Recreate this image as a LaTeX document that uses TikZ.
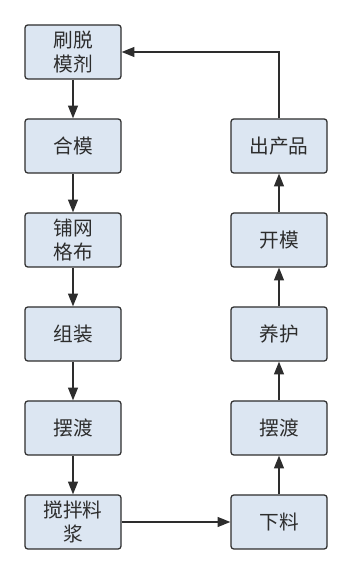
\documentclass[tikz,border=0pt]{standalone}
\usepackage{fontspec}
\newfontfamily\cjk{Noto Sans CJK SC}
\usepackage{tikz}
\usetikzlibrary{positioning, arrows.meta}

\definecolor{boxfill}{RGB}{220,230,242}
\definecolor{boxline}{RGB}{45,45,45}

\begin{document}
\begin{tikzpicture}[
    stepbox/.style={draw=boxline, fill=boxfill, rounded corners=2pt, minimum width=2.4cm,
                    minimum height=1.35cm, line width=0.9pt, align=center,
                    font=\cjk\fontsize{14}{16.5}\selectfont, text=boxline},
    arrow/.style={-{Triangle[length=9pt, width=7pt]}, line width=0.9pt, draw=boxline}
  ]
    \useasboundingbox (0,0) rectangle (8.8,14.35);

    % Left column
    \node[stepbox] (shua)  at (1.825,13.05) {刷脱\\模剂};
    \node[stepbox] (hemo)  at (1.825,10.7)  {合模};
    \node[stepbox] (puwang) at (1.825,8.35) {铺网\\格布};
    \node[stepbox] (zuzhuang) at (1.825,6.0) {组装};
    \node[stepbox] (baidu) at (1.825,3.65)  {摆渡};
    \node[stepbox] (jiaoban) at (1.825,1.3) {搅拌料\\浆};

    % Right column
    \node[stepbox] (xialiao) at (6.975,1.3)  {下料};
    \node[stepbox] (baidur)  at (6.975,3.65) {摆渡};
    \node[stepbox] (yanghu)  at (6.975,6.0)  {养护};
    \node[stepbox] (kaimo)   at (6.975,8.35) {开模};
    \node[stepbox] (chanpin) at (6.975,10.7) {出产品};

    % Arrows
    \draw[arrow] (shua) -- (hemo);
    \draw[arrow] (hemo) -- (puwang);
    \draw[arrow] (puwang) -- (zuzhuang);
    \draw[arrow] (zuzhuang) -- (baidu);
    \draw[arrow] (baidu) -- (jiaoban);
    \draw[arrow] (jiaoban) -- (xialiao);
    \draw[arrow] (xialiao) -- (baidur);
    \draw[arrow] (baidur) -- (yanghu);
    \draw[arrow] (yanghu) -- (kaimo);
    \draw[arrow] (kaimo) -- (chanpin);
    \draw[arrow] (chanpin.north) |- (shua.east);
\end{tikzpicture}
\end{document}
